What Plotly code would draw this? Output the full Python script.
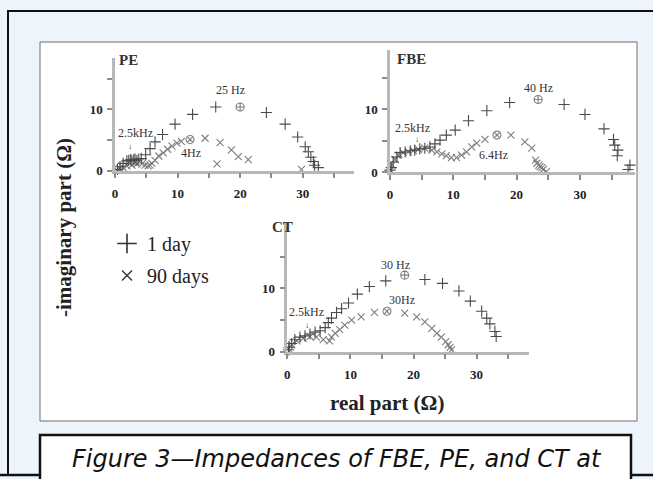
import plotly.graph_objects as go

W, H = 653, 479

# ---------------- data ----------------
pe_day1_x = [0.4, 0.8, 1.3, 1.9, 2.2, 2.5, 2.7, 3.0, 3.2, 3.5, 3.8, 4.2, 4.9, 5.6, 6.4, 7.6, 9.6, 12.4, 16.1,
             24.2, 27.2, 29.2, 30.4, 30.9, 31.3, 31.7, 31.9, 32.5]
pe_day1_y = [0.2, 0.65, 1.2, 1.6, 1.7, 1.8, 1.6, 1.8, 1.9, 1.7, 1.9, 2.0, 2.6, 3.6, 4.7, 5.9, 7.6, 9.2, 10.4,
             9.5, 7.6, 5.5, 3.9, 3.1, 2.2, 1.5, 0.9, 0.5]
pe_day90_x = [0.3, 0.8, 1.3, 1.9, 2.7, 3.5, 4.3, 4.8, 5.3, 5.6, 5.9, 6.4, 7.0, 7.7, 8.4, 9.1, 9.9, 10.6,
              14.4, 16.8, 18.6, 19.7, 21.3, 16.3, 29.8]
pe_day90_y = [0.1, 0.4, 0.5, 0.8, 0.9, 1.1, 1.1, 0.9, 0.8, 0.9, 1.2, 1.7, 2.4, 2.9, 3.5, 4.0, 4.5, 4.8,
              5.3, 4.6, 3.4, 2.3, 1.8, 1.1, 0.2]
pe_day1_mark = (20.0, 10.4)   # 25 Hz
pe_day90_mark = (12.0, 5.1)   # 4 Hz

fbe_day1_x = [0.0, 0.2, 0.5, 1.1, 1.6, 2.4, 3.2, 3.9, 4.7, 5.5, 6.3, 7.1, 7.9, 8.9, 10.3, 12.4, 15.3, 18.9,
              27.5, 30.8, 33.8, 35.3, 35.5, 36.0, 35.9, 37.9, 37.6]
fbe_day1_y = [0.3, 0.7, 1.6, 2.4, 3.1, 3.2, 3.4, 3.5, 3.7, 3.8, 4.0, 4.5, 5.1, 5.9, 6.7, 8.2, 9.8, 11.1,
              10.8, 9.2, 6.9, 5.2, 4.3, 3.5, 2.6, 1.1, 0.4]
fbe_day90_x = [0.1, 0.3, 0.8, 1.3, 2.1, 2.9, 3.7, 4.5, 5.5, 6.6, 7.4, 8.2, 8.9, 9.7, 10.5, 11.3, 12.1, 12.9,
               13.7, 15.0, 19.1, 21.3, 22.4, 23.0, 23.2, 23.5, 23.7, 24.0, 24.2, 24.7]
fbe_day90_y = [0.3, 1.1, 2.0, 2.7, 3.1, 3.2, 3.4, 3.6, 3.8, 3.5, 3.2, 2.9, 2.6, 2.3, 2.3, 2.7, 3.2, 4.0,
               4.6, 5.2, 5.9, 4.8, 3.8, 1.9, 1.4, 1.1, 0.85, 0.7, 0.4, 0.05]
fbe_day1_mark = (23.4, 11.6)  # 40 Hz
fbe_day90_mark = (16.9, 5.9)

ct_day1_x = [0.2, 0.3, 0.7, 1.2, 2.0, 2.8, 3.6, 4.4, 5.2, 6.0, 6.5, 7.0, 7.8, 8.6, 9.7, 11.1, 13.0, 15.6,
             21.8, 24.6, 27.2, 29.0, 30.8, 31.6, 32.1, 32.9, 33.1]
ct_day1_y = [0.3, 0.7, 1.3, 1.9, 2.3, 2.5, 2.8, 3.1, 3.3, 3.8, 4.6, 5.3, 6.2, 6.8, 7.7, 9.1, 10.3, 11.2,
             11.4, 10.8, 9.6, 8.0, 6.4, 5.3, 4.4, 3.2, 2.4]
ct_day90_x = [0.2, 0.7, 1.5, 2.5, 3.6, 4.6, 5.7, 6.7, 7.0, 7.6, 8.3, 9.1, 10.2, 11.7, 13.8,
              18.6, 20.5, 21.8, 22.9, 23.7, 24.4, 25.1, 25.5, 25.8, 26.0]
ct_day90_y = [0.5, 1.1, 1.7, 2.1, 2.4, 2.3, 1.9, 1.7, 2.3, 2.9, 3.5, 4.2, 5.0, 5.5, 6.2,
              6.1, 5.5, 4.7, 3.7, 2.9, 2.3, 1.6, 1.1, 0.7, 0.3]
ct_day1_mark = (18.6, 12.1)   # 30 Hz
ct_day90_mark = (15.8, 6.4)   # 30Hz

x_ticks = [0, 5, 10, 15, 20, 25, 30, 35]
x_ticktext = ["0", "", "10", "", "20", "", "30", ""]
y_ticks = [0, 5, 10, 15]
y_ticktext = ["0", "", "10", ""]

legend_names = ["1 day", "90 days"]

# ---------------- styling ----------------
C1 = "#4a4a4a"
C90 = "#7e7e7e"
SERIF = "Liberation Serif"

def px(x):
    return x / W

def py(y):
    return 1 - y / H

fig = go.Figure()

def mk(symbol, size, color, width):
    return dict(symbol=symbol, size=size, color=color, line=dict(color=color, width=width))

panels = [
    ("x", "y", pe_day1_x, pe_day1_y, pe_day90_x, pe_day90_y, pe_day1_mark, pe_day90_mark),
    ("x2", "y2", fbe_day1_x, fbe_day1_y, fbe_day90_x, fbe_day90_y, fbe_day1_mark, fbe_day90_mark),
    ("x3", "y3", ct_day1_x, ct_day1_y, ct_day90_x, ct_day90_y, ct_day1_mark, ct_day90_mark),
]
for xa, ya, d1x, d1y, d9x, d9y, m1, m9 in panels:
    fig.add_trace(go.Scatter(x=d9x, y=d9y, mode="markers", xaxis=xa, yaxis=ya, showlegend=False,
                             cliponaxis=False, marker=mk("x-thin-open", 7, C90, 1.1)))
    fig.add_trace(go.Scatter(x=d1x, y=d1y, mode="markers", xaxis=xa, yaxis=ya, showlegend=False,
                             cliponaxis=False, marker=mk("cross-thin-open", 8, C1, 1.1)))
    fig.add_trace(go.Scatter(x=[m1[0]], y=[m1[1]], mode="markers", xaxis=xa, yaxis=ya, showlegend=False,
                             cliponaxis=False, marker=mk("circle-cross-open", 8, C90, 1.1)))
    fig.add_trace(go.Scatter(x=[m9[0]], y=[m9[1]], mode="markers", xaxis=xa, yaxis=ya, showlegend=False,
                             cliponaxis=False, marker=mk("circle-x-open", 8, C90, 1.1)))

# legend entries
fig.add_trace(go.Scatter(x=[None], y=[None], mode="markers", name=legend_names[0], legendgroup="a",
                         marker=mk("cross-thin-open", 14, "#333", 1.6)))
fig.add_trace(go.Scatter(x=[None], y=[None], mode="markers", name=legend_names[1], legendgroup="b",
                         marker=mk("x-thin-open", 10, "#333", 1.4)))

axis_common = dict(showline=True, linecolor="#b8b8b8", linewidth=2.5, ticks="outside", ticklen=5,
                   tickwidth=1.5, tickcolor="#8c8c8c", showgrid=False, zeroline=False, automargin=False,
                   tickfont=dict(family=SERIF, size=13, color="#222", weight="bold"))

def xaxis(domain, rng, anchor):
    return dict(domain=domain, range=rng, anchor=anchor, tickmode="array", tickvals=x_ticks,
                ticktext=x_ticktext, ticklabelstandoff=4, **axis_common)

def yaxis(domain, rng, anchor):
    return dict(domain=domain, range=rng, anchor=anchor, tickmode="array", tickvals=y_ticks,
                ticktext=y_ticktext, ticklabelstandoff=2, **axis_common)

fig.update_layout(
    template="none",
    width=W, height=H, autosize=False,
    margin=dict(l=0, r=0, t=0, b=0, pad=0, autoexpand=False),
    paper_bgcolor="#eef4fb", plot_bgcolor="rgba(0,0,0,0)",
    xaxis=xaxis([px(115), px(354)], [0, 38.2], "y"),
    yaxis=yaxis([py(170.7), py(58)], [0, 18.4], "x"),
    xaxis2=xaxis([px(390), px(635)], [0, 38.7], "y2"),
    yaxis2=yaxis([py(172), py(50)], [0, 19.5], "x2"),
    xaxis3=xaxis([px(287.3), px(529)], [0, 38.3], "y3"),
    yaxis3=yaxis([py(351.7), py(222)], [0, 20.5], "x3"),
    showlegend=True,
    legend=dict(x=px(107), y=py(224), xanchor="left", yanchor="top", bgcolor="rgba(0,0,0,0)",
                font=dict(family=SERIF, size=20, color="#222"), tracegroupgap=3,
                traceorder="grouped", borderwidth=0),
)

shapes = [
    # outer page frame
    dict(type="rect", xref="paper", yref="paper", x0=px(8), x1=px(670), y0=py(475), y1=py(11),
         line=dict(color="#111", width=2), fillcolor="rgba(0,0,0,0)", layer="below"),
    dict(type="line", xref="paper", yref="paper", x0=0, x1=1, y0=py(475), y1=py(475),
         line=dict(color="#111", width=2.5), layer="below"),
    # white figure box
    dict(type="rect", xref="paper", yref="paper", x0=px(40), x1=px(637), y0=py(421), y1=py(42),
         line=dict(color="#6e6e6e", width=1), fillcolor="white", layer="below"),
    # caption box
    dict(type="rect", xref="paper", yref="paper", x0=px(40), x1=px(631), y0=py(495), y1=py(435),
         line=dict(color="#111", width=2.5), fillcolor="white", layer="below"),
]
fig.update_layout(shapes=shapes)

ann_font = dict(family=SERIF, size=12, color="#333")
arrow_font = dict(family=SERIF, size=8, color="#222")

def ann(text, xref, yref, x, y, font, **kw):
    return dict(text=text, xref=xref, yref=yref, x=x, y=y, showarrow=False, font=font,
                xanchor="center", yanchor="middle", **kw)

label_font = dict(family=SERIF, size=15, color="#333")
title_font = dict(family=SERIF, size=21, color="#222")
annotations = [
    # panel labels
    ann("<b>PE</b>", "paper", "paper", px(128.5), py(60), label_font),
    ann("<b>FBE</b>", "paper", "paper", px(411), py(59), label_font),
    ann("<b>CT</b>", "paper", "paper", px(282), py(227), label_font),
    # axis titles
    ann("<b>-imaginary part (Ω)</b>", "paper", "paper", px(64), py(228), title_font, textangle=-90),
    ann("<b>real part (Ω)</b>", "paper", "paper", px(387), py(403), title_font),
    # PE labels
    ann("25 Hz", "x", "y", 18.5, 13.2, ann_font),
    ann("2.5kHz", "x", "y", 3.2, 6.1, ann_font),
    ann("↓", "x", "y", 2.4, 3.9, arrow_font),
    ann("4Hz", "x", "y", 12.1, 2.9, ann_font),
    # FBE labels
    ann("40 Hz", "x2", "y2", 23.4, 13.4, ann_font),
    ann("2.5kHz", "x2", "y2", 3.6, 7.0, ann_font),
    ann("↓", "x2", "y2", 4.2, 5.2, arrow_font),
    ann("6.4Hz", "x2", "y2", 16.4, 2.7, ann_font),
    # CT labels
    ann("30 Hz", "x3", "y3", 17.1, 13.7, ann_font),
    ann("30Hz", "x3", "y3", 18.1, 8.1, ann_font),
    ann("2.5kHz", "x3", "y3", 3.1, 6.3, ann_font),
    ann("↓", "x3", "y3", 3.1, 4.1, arrow_font),
    # caption
    ann("<i>Figure 3—Impedances of FBE, PE, and CT at</i>", "paper", "paper", px(337), py(459),
        dict(family="DejaVu Sans", size=24, color="#111")),
]
fig.update_layout(annotations=annotations)

fig.write_html("out.html")
